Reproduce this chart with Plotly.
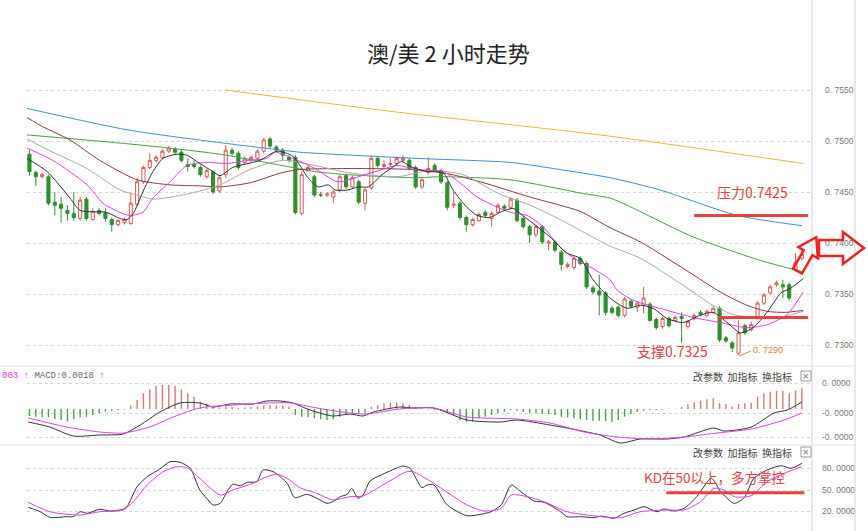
import plotly.graph_objects as go

# ---------------- data ----------------
OPEN = [0.7487,0.7469,0.7465,0.7465,0.7440,0.7438,0.7432,0.7429,0.7424,0.7443,
        0.7423,0.7432,0.7430,0.7423,0.7418,0.7420,0.7419,0.7438,0.7460,0.7474,
        0.7481,0.7484,0.7490,0.7492,0.7489,0.7477,0.7477,0.7474,0.7465,0.7470,
        0.7451,0.7467,0.7491,0.7488,0.7479,0.7481,0.7483,0.7490,0.7502,0.7494,
        0.7491,0.7484,0.7484,0.7429,0.7471,0.7465,0.7447,0.7447,0.7445,0.7452,
        0.7466,0.7455,0.7460,0.7439,0.7454,0.7483,0.7475,0.7477,0.7478,0.7481,
        0.7481,0.7474,0.7455,0.7469,0.7476,0.7471,0.7459,0.7437,0.7439,0.7425,
        0.7418,0.7422,0.7430,0.7424,0.7430,0.7436,0.7435,0.7442,0.7424,0.7416,
        0.7408,0.7416,0.7400,0.7401,0.7391,0.7377,0.7376,0.7385,0.7380,0.7356,
        0.7353,0.7351,0.7336,0.7337,0.7329,0.7343,0.7337,0.7339,0.7340,0.7325,
        0.7318,0.7326,0.7324,0.7328,0.7318,0.7326,0.7332,0.7329,0.7332,0.7336,
        0.7307,0.7302,0.7292,0.7319,0.7315,0.7327,0.7341,0.7351,0.7359,0.7359,
        0.7359,0.7373,0.7385]
HIGH = [0.7491,0.7471,0.7469,0.7467,0.7450,0.7445,0.7437,0.7450,0.7445,0.7445,
        0.7434,0.7434,0.7434,0.7425,0.7423,0.7425,0.7449,0.7464,0.7476,0.7488,
        0.7486,0.7492,0.7495,0.7494,0.7491,0.7483,0.7481,0.7476,0.7473,0.7471,
        0.7466,0.7496,0.7493,0.7490,0.7485,0.7486,0.7492,0.7503,0.7504,0.7496,
        0.7493,0.7486,0.7486,0.7470,0.7476,0.7467,0.7450,0.7450,0.7452,0.7467,
        0.7468,0.7466,0.7462,0.7454,0.7486,0.7485,0.7481,0.7483,0.7485,0.7486,
        0.7483,0.7476,0.7464,0.7484,0.7478,0.7473,0.7461,0.7450,0.7441,0.7427,
        0.7425,0.7430,0.7432,0.7431,0.7439,0.7438,0.7445,0.7444,0.7426,0.7418,
        0.7418,0.7418,0.7403,0.7403,0.7393,0.7381,0.7387,0.7387,0.7382,0.7358,
        0.7369,0.7353,0.7338,0.7339,0.7347,0.7345,0.7343,0.7357,0.7342,0.7327,
        0.7328,0.7328,0.7329,0.7332,0.7324,0.7331,0.7334,0.7335,0.7338,0.7338,
        0.7309,0.7304,0.7324,0.7321,0.7323,0.7343,0.7351,0.7359,0.7363,0.7364,
        0.7361,0.7390,0.7393]
LOW = [0.7466,0.7456,0.7463,0.7437,0.7427,0.7420,0.7422,0.7422,0.7422,0.7422,
       0.7422,0.7427,0.7421,0.7411,0.7416,0.7418,0.7418,0.7436,0.7458,0.7472,
       0.7479,0.7482,0.7488,0.7487,0.7479,0.7470,0.7473,0.7465,0.7463,0.7448,
       0.7449,0.7464,0.7486,0.7472,0.7477,0.7479,0.7481,0.7488,0.7493,0.7489,
       0.7481,0.7479,0.7428,0.7427,0.7470,0.7445,0.7445,0.7445,0.7439,0.7450,
       0.7453,0.7453,0.7438,0.7432,0.7452,0.7474,0.7473,0.7475,0.7476,0.7479,
       0.7471,0.7453,0.7453,0.7467,0.7470,0.7458,0.7432,0.7434,0.7423,0.7411,
       0.7416,0.7421,0.7425,0.7416,0.7428,0.7432,0.7433,0.7420,0.7414,0.7400,
       0.7406,0.7399,0.7393,0.7391,0.7373,0.7375,0.7374,0.7378,0.7355,0.7350,
       0.7329,0.7329,0.7330,0.7327,0.7327,0.7336,0.7332,0.7331,0.7323,0.7315,
       0.7316,0.7317,0.7323,0.7302,0.7316,0.7324,0.7328,0.7327,0.7330,0.7303,
       0.7302,0.7293,0.7290,0.7310,0.7313,0.7325,0.7339,0.7349,0.7357,0.7346,
       0.7344,0.7372,0.7383]
CLOSE = [0.7470,0.7465,0.7467,0.7439,0.7437,0.7434,0.7429,0.7425,0.7442,0.7424,
         0.7431,0.7429,0.7424,0.7418,0.7422,0.7423,0.7439,0.7460,0.7474,0.7481,
         0.7484,0.7490,0.7493,0.7489,0.7481,0.7475,0.7475,0.7467,0.7471,0.7450,
         0.7464,0.7491,0.7488,0.7474,0.7483,0.7484,0.7490,0.7501,0.7495,0.7491,
         0.7486,0.7481,0.7430,0.7467,0.7474,0.7447,0.7447,0.7448,0.7450,0.7465,
         0.7455,0.7464,0.7440,0.7452,0.7483,0.7476,0.7477,0.7478,0.7483,0.7483,
         0.7473,0.7455,0.7462,0.7473,0.7471,0.7460,0.7435,0.7438,0.7425,0.7418,
         0.7423,0.7428,0.7427,0.7429,0.7437,0.7434,0.7443,0.7422,0.7416,0.7408,
         0.7416,0.7401,0.7401,0.7393,0.7379,0.7379,0.7385,0.7380,0.7357,0.7352,
         0.7349,0.7332,0.7332,0.7329,0.7345,0.7338,0.7341,0.7346,0.7324,0.7317,
         0.7326,0.7319,0.7327,0.7326,0.7323,0.7329,0.7330,0.7333,0.7336,0.7305,
         0.7304,0.7297,0.7312,0.7312,0.7320,0.7341,0.7349,0.7357,0.7361,0.7357,
         0.7346,0.7381,0.7389]

# moving-average lines, sampled as (bar position, price)
MA5 = [(-0.4,0.7483),(2.8,0.7470),(6.4,0.7444),(8.0,0.7432),(12.2,0.7430),(14.3,0.7424),
       (15.4,0.7423),(16.4,0.7429),(17.9,0.7450),(19.5,0.7470),(21.1,0.7483),(23.3,0.7487),
       (24.9,0.7486),(26.9,0.7478),(29.0,0.7470),(30.1,0.7466),(32.1,0.7474),(36.4,0.7481),
       (39.1,0.7490),(41.6,0.7485),(44.0,0.7464),(45.6,0.7455),(47.2,0.7457),(48.3,0.7452),
       (50.3,0.7452),(51.9,0.7455),(53.5,0.7455),(55.7,0.7467),(57.3,0.7474),(58.8,0.7480),
       (60.1,0.7475),(62.8,0.7470),(65.3,0.7469),(66.9,0.7452),(69.1,0.7435),(70.7,0.7427),
       (72.7,0.7425),(74.3,0.7430),(76.4,0.7434),(77.9,0.7427),(80.2,0.7416),(82.2,0.7406),
       (84.9,0.7390),(87.0,0.7385),(89.0,0.7364),(91.7,0.7346),(94.4,0.7336),(96.5,0.7339),
       (98.5,0.7336),(100.7,0.7326),(103.2,0.7322),(105.9,0.7329),(108.0,0.7332),
       (110.2,0.7322),(112.3,0.7312),(114.3,0.7317),(116.5,0.7332),(118.7,0.7351),
       (120.3,0.7356),(122.2,0.7365)]
MA10 = [(-0.4,0.7493),(3.7,0.7481),(9.1,0.7457),(11.6,0.7439),(14.3,0.7430),(15.9,0.7427),
        (17.9,0.7430),(19.5,0.7444),(22.2,0.7460),(24.9,0.7476),(28.0,0.7479),(31.2,0.7478),
        (34.5,0.7481),(37.5,0.7483),(38.8,0.7489),(41.6,0.7483),(45.1,0.7473),(48.7,0.7460),
        (51.4,0.7464),(54.6,0.7470),(58.2,0.7476),(60.9,0.7472),(65.3,0.7470),(68.0,0.7459),
        (70.7,0.7445),(75.9,0.7430),(78.6,0.7427),(81.1,0.7416),(83.8,0.7396),(86.5,0.7383),
        (89.0,0.7375),(91.7,0.7364),(92.8,0.7354),(95.3,0.7344),(100.7,0.7334),(104.8,0.7327),
        (109.1,0.7322),(113.3,0.7317),(116.5,0.7320),(119.7,0.7330),(122.2,0.7352)]
MA20 = [(-0.4,0.7502),(3.7,0.7489),(9.1,0.7473),(14.3,0.7452),(17.0,0.7447),(19.5,0.7443),
        (24.9,0.7448),(30.1,0.7457),(34.8,0.7472),(39.9,0.7481),(45.1,0.7476),(50.3,0.7469),
        (58.1,0.7465),(63.3,0.7471),(68.5,0.7467),(73.9,0.7449),(79.1,0.7437),(83.8,0.7423),
        (91.7,0.7397),(96.5,0.7385),(104.8,0.7352),(107.9,0.7339),(111.1,0.7330),(115.4,0.7326),
        (118.5,0.7327),(122.2,0.7333)]
MA30 = [(-0.4,0.7523),(2.1,0.7514),(6.4,0.7501),(11.1,0.7481),(17.0,0.7462),(22.2,0.7457),
        (26.9,0.7456),(30.1,0.7455),(34.8,0.7459),(39.9,0.7469),(42.7,0.7472),(50.3,0.7473),
        (60.6,0.7472),(66.0,0.7468),(71.2,0.7460),(79.1,0.7445),(83.8,0.7437),(87.0,0.7431),
        (91.7,0.7415),(96.5,0.7401),(104.8,0.7369),(109.1,0.7352),(113.3,0.7339),(116.5,0.7333),
        (119.4,0.7332),(122.2,0.7334)]
MA60 = [(-0.4,0.7506),(14.3,0.7498),(22.2,0.7493),(30.1,0.7487),(39.9,0.7476),(45.1,0.7470),
        (50.3,0.7467),(60.9,0.7464),(65.3,0.7465),(75.9,0.7462),(83.8,0.7453),(87.0,0.7449),
        (91.7,0.7444),(94.4,0.7437),(104.8,0.7406),(115.4,0.7383),(122.0,0.7372)]
MA120 = [(-0.4,0.7532),(15.4,0.7511),(29.3,0.7499),(39.9,0.7491),(42.7,0.7489),(60.9,0.7483),
         (75.9,0.7479),(83.8,0.7472),(91.7,0.7464),(99.6,0.7452),(111.8,0.7427),(122.0,0.7417)]
MA250 = [(30.9,0.7550),(58.5,0.7528),(90.1,0.7506),(122.2,0.7478)]

# MACD (in units of 0.0001)
MACD_HIST = [-7,-7.7,-8.3,-8.3,-10.3,-11,-12.7,-10.3,-8.3,-7.7,
             -6,-4.3,-2.7,-1.7,-1,-0.5,3.3,9,15.7,19.7,
             23,24,24,23,19.7,15.7,12.3,7.3,5.7,2.3,
             1.5,2.5,2,1,1.5,2,2.5,3.5,4,3.5,
             3,2.5,-6,-7.7,-8.3,-9.3,-10.3,-11,-10.3,-7.7,
             -6,-4.3,-4.3,-3.7,2.3,4,5.7,6.3,6.3,5.7,
             4,2.3,0.7,-0.3,-1,-2,-4,-6,-11,-12.7,
             -12.7,-9.3,-7.7,-6,-4.3,-2.7,-1,-1.7,-2.7,-4.3,
             -4.3,-5,-5.3,-6,-7.7,-8.3,-9.3,-10.3,-11,-11.7,
             -11.7,-12,-12.7,-11,-7.7,-5,-2.7,-1.7,-1,-1,
             -0.5,0.3,0.3,2.3,5,6.7,8.3,9.7,10.7,5.7,
             5,2.3,5,5.7,6.3,12.3,15.7,17.3,18.3,18.3,
             15.7,18.3,20.7]
MACD_DIF = [(-0.2,-13),(3.2,-18),(6.9,-27),(11.1,-26),(14.8,-25),(17.5,-16),(20.6,-3),(23.8,6),
            (26.9,6),(29.0,2),(31.7,5),(35.3,5),(37.5,8),(39.6,8),(41.6,6),(44.3,-1),(47.9,-7),
            (50.6,-5),(52.7,-7),(54.3,-3),(58.5,2),(60.6,1),(63.9,1),(69.1,-11),(74.3,-13),
            (77.0,-11),(82.2,-16),(86.5,-21),(90.1,-26),(93.3,-34),(96.5,-30),(100.7,-30),
            (103.4,-28),(108.1,-19),(109.7,-22),(114.0,-18),(117.6,-4),(119.7,-1),(122.0,7)]
MACD_DEA = [(-0.2,-9),(5.9,-18),(11.1,-23),(14.8,-24),(19.0,-18),(22.7,-8),(26.9,1),(32.1,4),
            (37.5,6),(41.2,6),(45.4,1),(50.6,-4),(53.3,-5),(58.5,0),(63.75,1),(69.1,-8),
            (77.0,-10),(82.2,-14),(87.6,-23),(92.8,-28),(98.0,-30),(103.4,-28),(108.6,-24),
            (114.0,-20),(119.2,-11),(122.0,-4)]

# KD
KD_K = [(-0.2,25.9),(1.7,19.7),(3.2,11.9),(5.9,12.8),(6.9,12.8),(8.0,19.7),(9.1,17.5),(11.1,23.1),
        (12.7,20.7),(14.8,23.1),(15.4,26.7),(17.0,54.6),(18.6,68.6),(20.6,79.3),(22.2,89.5),
        (23.8,88.6),(25.4,80.3),(26.9,50),(28.0,38.4),(29.0,29.1),(30.1,31.4),(31.2,47.6),
        (32.1,58),(33.3,56),(34.4,60.7),(35.9,61.6),(36.9,77.9),(38.5,75.5),(40.7,59.3),
        (41.9,39.3),(43.8,44),(45.4,38.4),(47.0,31.4),(47.9,33.7),(49.1,40.7),(50.2,44),
        (50.9,52.4),(51.9,38.4),(52.7,43),(53.8,62.6),(55.8,71.9),(58.1,81.1),(59.0,83.5),
        (60.1,80.3),(62.0,53.2),(62.8,57),(63.9,57),(66.0,29.1),(69.1,14.1),(71.3,16.1),
        (72.9,19.7),(74.5,29.1),(76.1,57),(77.6,47.6),(79.7,34.7),(81.3,32.8),(83.9,19.7),
        (84.9,12.8),(87.1,12.8),(89.2,11.4),(90.3,13.7),(92.3,10.5),(93.9,17.5),(95.5,22.1),
        (97.1,26.7),(99.1,19.7),(100.2,23.5),(101.8,20.7),(103.4,24.5),(105.4,40.7),
        (107.7,66.3),(109.2,47.6),(111.3,31.4),(112.9,39.3),(114.4,66.3),(116.5,77.9),
        (118.7,83.9),(120.3,80.3),(122.0,87.2)]
KD_D = [(-0.2,32.8),(3.2,19.7),(5.9,16.1),(8.0,15.1),(11.1,19.7),(14.8,22.1),(16.4,33.7),
        (18.6,57),(21.1,75.5),(23.3,82.5),(24.9,81.1),(26.9,66.3),(30.1,43),(32.1,50),
        (35.3,59.3),(37.5,68.6),(39.1,71.9),(40.7,66.3),(42.7,53.2),(45.4,45.4),(47.9,36.1),
        (50.6,40.7),(52.7,41.6),(55.8,57),(59.6,75.5),(60.6,75.5),(63.75,60),(69.1,29.1),
        (71.8,20.7),(74.5,24.5),(76.1,43),(78.6,40.7),(81.3,33.7),(84.9,19.7),(90.3,12.8),
        (93.4,11.4),(96.5,19.7),(100.7,22.1),(103.4,22.1),(106.0,33.7),(108.1,52.4),
        (109.7,50),(111.3,40.7),(114.0,42),(116.5,61.6),(119.2,73.3),(122.0,82.5)]

PRICE_TICKS = [0.7300, 0.7350, 0.7400, 0.7450, 0.7500, 0.7550]
PRICE_TICK_TEXT = ["0. 7300", "0. 7350", "0. 7400", "0. 7450", "0. 7500", "0. 7550"]
MACD_TICKS = [26, -4, -28]
MACD_TICK_TEXT = ["0. 0000", "-0. 0000", "-0. 0000"]
KD_TICKS = [80, 50, 20]
KD_TICK_TEXT = ["80. 0000", "50. 0000", "20. 0000"]
RESIST = 0.7427
SUPPORT = 0.7327
KD_LEVEL = 46

# ---------------- figure ----------------
W, H = 868, 531
def px(x):
    return x / W
def py(y):
    return 1 - y / H

N = len(OPEN)
IDX = list(range(N))

RED = "#d65c5c"
GREEN = "#2f8f2f"
HRED = "#d27a7a"
HGREEN = "#4e9e4e"
ANN_RED = "#e8413d"

fig = go.Figure()

fig.add_trace(go.Candlestick(
    x=IDX, open=OPEN, high=HIGH, low=LOW, close=CLOSE,
    increasing=dict(line=dict(color=RED, width=1), fillcolor="white"),
    decreasing=dict(line=dict(color=GREEN, width=1), fillcolor=GREEN),
    whiskerwidth=0, xaxis="x", yaxis="y", hoverinfo="skip"))

def add_line(pts, color, xa, ya, width=1.0):
    fig.add_trace(go.Scatter(
        x=[p[0] for p in pts], y=[p[1] for p in pts], mode="lines",
        line=dict(color=color, width=width, shape="spline", smoothing=0.7),
        xaxis=xa, yaxis=ya, hoverinfo="skip"))

add_line(MA250, "#f2b33d", "x", "y")
add_line(MA120, "#3d8fd1", "x", "y")
add_line(MA60, "#46a046", "x", "y")
add_line(MA30, "#8c3b3b", "x", "y")
add_line(MA20, "#aaaaaa", "x", "y")
add_line(MA10, "#e040e0", "x", "y")
add_line(MA5, "#333333", "x", "y")

# MACD histogram as thin vertical strokes
for sign, col in ((1, HRED), (-1, HGREEN)):
    xs, ys = [], []
    for i, v in zip(IDX, MACD_HIST):
        if v * sign > 0:
            xs += [i, i, None]
            ys += [0, v, None]
    fig.add_trace(go.Scatter(x=xs, y=ys, mode="lines", line=dict(color=col, width=1.4),
                             xaxis="x2", yaxis="y2", hoverinfo="skip"))
add_line(MACD_DIF, "#333333", "x2", "y2")
add_line(MACD_DEA, "#e040e0", "x2", "y2")

add_line(KD_K, "#333333", "x3", "y3")
add_line(KD_D, "#e040e0", "x3", "y3")

XR = [-0.39, 123.6]
XD = [px(27), px(812)]
xcommon = dict(range=XR, domain=XD, showgrid=False, zeroline=False,
               showticklabels=False, showline=False, fixedrange=True)
ycommon = dict(side="right", showline=False, zeroline=False, ticks="",
               gridcolor="#d6d6d6", griddash="dot", gridwidth=1,
               tickfont=dict(family="Liberation Sans, Arial", size=8.5, color="#777777"))

fig.update_layout(
    width=W, height=H, margin=dict(l=0, r=0, t=0, b=0),
    paper_bgcolor="white", plot_bgcolor="white", showlegend=False,
    xaxis=dict(**xcommon, anchor="y", rangeslider=dict(visible=False)),
    xaxis2=dict(**xcommon, anchor="y2"),
    xaxis3=dict(**xcommon, anchor="y3"),
    yaxis=dict(**ycommon, domain=[py(365), py(70)], range=[0.728039, 0.756961],
               tickvals=PRICE_TICKS, ticktext=PRICE_TICK_TEXT, anchor="x",
               ticklabelstandoff=12),
    yaxis2=dict(**ycommon, domain=[py(445), py(367)], range=[-36, 42],
                tickvals=MACD_TICKS, ticktext=MACD_TICK_TEXT, anchor="x2",
                ticklabelstandoff=9),
    yaxis3=dict(**ycommon, domain=[py(531), py(445)], range=[-7.2, 112.8],
                tickvals=KD_TICKS, ticktext=KD_TICK_TEXT, anchor="x3",
                ticklabelstandoff=9),
)

shapes = []
# frame lines
for xx in (812, 855):
    shapes.append(dict(type="line", xref="paper", yref="paper", x0=px(xx), x1=px(xx),
                       y0=0, y1=1, line=dict(color="#d4d4d4", width=1)))
for yy in (366, 445):
    shapes.append(dict(type="line", xref="paper", yref="paper", x0=0, x1=px(855),
                       y0=py(yy), y1=py(yy), line=dict(color="#e2e2e2", width=1)))
# resistance / support / KD lines
shapes.append(dict(type="line", xref="x", yref="y", x0=105.0, x1=123.0, y0=RESIST, y1=RESIST,
                   line=dict(color=ANN_RED, width=3)))
shapes.append(dict(type="line", xref="x", yref="y", x0=108.8, x1=123.0, y0=SUPPORT, y1=SUPPORT,
                   line=dict(color=ANN_RED, width=3)))
shapes.append(dict(type="line", xref="x3", yref="y3", x0=100.6, x1=122.4, y0=KD_LEVEL, y1=KD_LEVEL,
                   line=dict(color=ANN_RED, width=3)))
# low marker line
shapes.append(dict(type="line", xref="paper", yref="paper", x0=px(739), y0=py(356),
                   x1=px(751), y1=py(351), line=dict(color="#e0803a", width=1)))

def poly(points):
    return "M " + " L ".join(f"{px(x):.5f},{py(y):.5f}" for x, y in points) + " Z"

arrow1 = [(793.1, 268.5), (803.75, 250.1), (798.4, 247.0), (816.25, 237.25), (817.9, 258.25),
          (812.5, 255.1), (801.9, 273.5)]
arrow2 = [(819, 240), (843, 240), (843, 232), (864, 248), (843, 264), (843, 256), (819, 256)]
for a in (arrow1, arrow2):
    shapes.append(dict(type="path", xref="paper", yref="paper", path=poly(a),
                       line=dict(color="#ee2222", width=2.5), fillcolor="rgba(255,255,255,0)"))
# close boxes
for yc in (376, 452):
    shapes.append(dict(type="rect", xref="paper", yref="paper", x0=px(801), x1=px(811),
                       y0=py(yc - 5), y1=py(yc + 5), line=dict(color="#999999", width=1)))
fig.update_layout(shapes=shapes)

ann = []
ann.append(dict(x=px(448), y=py(52), text="澳/美 2 小时走势", showarrow=False,
                font=dict(family="Noto Sans CJK SC", size=22, color="#222222"),
                xref="paper", yref="paper", xanchor="center", yanchor="middle"))
ann.append(dict(x=px(752), y=py(192), text="压力0.7425", showarrow=False,
                font=dict(family="Noto Sans CJK SC", size=14, color=ANN_RED),
                xref="paper", yref="paper", xanchor="center", yanchor="middle"))
ann.append(dict(x=px(672), y=py(351), text="支撑0.7325", showarrow=False,
                font=dict(family="Noto Sans CJK SC", size=14, color=ANN_RED),
                xref="paper", yref="paper", xanchor="center", yanchor="middle"))
ann.append(dict(x=px(751), y=py(350), text="0. 7290", showarrow=False,
                font=dict(family="Liberation Sans, Arial", size=9, color="#e0803a"),
                xref="paper", yref="paper", xanchor="left", yanchor="middle"))
ann.append(dict(x=px(714), y=py(477), text="KD在50以上，多方掌控", showarrow=False,
                font=dict(family="Noto Sans CJK SC", size=13.5, color=ANN_RED),
                xref="paper", yref="paper", xanchor="center", yanchor="middle"))
for yc in (376, 452):
    ann.append(dict(x=px(794), y=py(yc), text="改参数  加指标  换指标", showarrow=False,
                    font=dict(family="Noto Sans CJK SC", size=10, color="#444444"),
                    xref="paper", yref="paper", xanchor="right", yanchor="middle"))
    ann.append(dict(x=px(806), y=py(yc), text="×", showarrow=False,
                    font=dict(family="DejaVu Sans", size=9, color="#777777"),
                    xref="paper", yref="paper", xanchor="center", yanchor="middle"))
ann.append(dict(x=px(0), y=py(376),
                text="<span style='color:#d63ad6'>003 ↑</span> <span style='color:#666666'>MACD:0.0018 ↑</span>",
                showarrow=False, font=dict(family="Liberation Mono, DejaVu Sans Mono", size=9),
                xref="paper", yref="paper", xanchor="left", yanchor="middle"))
fig.update_layout(annotations=ann)

fig.write_html("out.html")
